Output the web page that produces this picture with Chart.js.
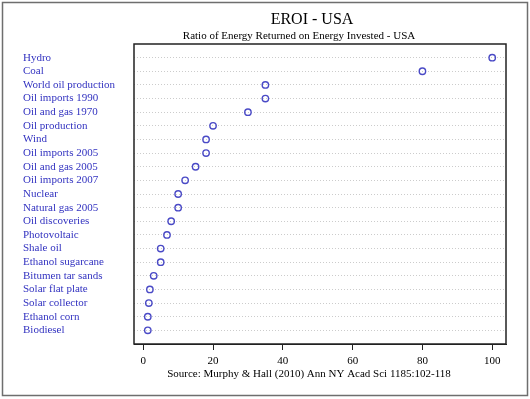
<!DOCTYPE html>
<html>
<head>
<meta charset="utf-8">
<script src="https://cdn.jsdelivr.net/npm/chart.js@4"></script>
<style>
  body { margin: 0; background: #fff; }
  #wrap { width: 530px; height: 399px; }
</style>
</head>
<body>
<div id="wrap"><canvas id="eroiChart" width="530" height="399"></canvas></div>
<script>
// data
var categories = ["Hydro", "Coal", "World oil production", "Oil imports 1990", "Oil and gas 1970",
    "Oil production", "Wind", "Oil imports 2005", "Oil and gas 2005", "Oil imports 2007",
    "Nuclear", "Natural gas 2005", "Oil discoveries", "Photovoltaic", "Shale oil",
    "Ethanol sugarcane", "Bitumen tar sands", "Solar flat plate", "Solar collector",
    "Ethanol corn", "Biodiesel"];
var eroiValues = [100, 80, 35, 35, 30, 20, 18, 18, 15, 12, 10, 10, 8, 6.8, 5, 5, 3, 1.9, 1.6, 1.3, 1.3];
var xTickValues = [0, 20, 40, 60, 80, 100];

var n = categories.length;
var blue = '#3232c0';
var serif = 'Liberation Serif';

// rows are placed 1..n from bottom, top row first in the lists
var points = eroiValues.map(function(v, i){
    return {x: v, y: n - i};
});

var frame = {
    id: 'frame',
    beforeDraw: function(chart){
        var c = chart.ctx;
        c.save();
        c.fillStyle = '#fff';
        c.fillRect(0, 0, chart.width, chart.height);
        c.strokeStyle = '#6e6e6e';
        c.lineWidth = 1.5;
        c.strokeRect(2.5, 2.5, 525, 393);
        c.restore();
    },
    afterDraw: function(chart){
        var c = chart.ctx, a = chart.chartArea;
        c.save();
        c.strokeStyle = '#222';
        c.lineWidth = 1.5;
        c.strokeRect(a.left, a.top, a.right - a.left, a.bottom - a.top);
        c.fillStyle = '#000';
        c.textAlign = 'center';
        c.textBaseline = 'alphabetic';
        c.font = '16px "' + serif + '"';
        c.fillText('EROI - USA', 312, 24);
        c.font = '11px "' + serif + '"';
        c.fillText('Ratio of Energy Returned on Energy Invested - USA', 299, 39);
        c.fillText('Source: Murphy & Hall (2010) Ann NY Acad Sci 1185:102-118', 309, 377);
        c.restore();
    }
};

var ctx = document.getElementById('eroiChart').getContext('2d');
var eroiChart = new Chart(ctx, {
    type: 'scatter',
    data: {
        datasets: [{
            data: points,
            pointStyle: 'circle',
            pointRadius: 3.2,
            pointHoverRadius: 3.2,
            pointBorderWidth: 1.4,
            borderColor: '#4a4ac6',
            backgroundColor: 'rgba(0,0,0,0)'
        }]
    },
    options: {
        responsive: false,
        animation: false,
        layout: {padding: {left: 23, right: 24, top: 44, bottom: 0}},
        plugins: {legend: {display: false}, tooltip: {enabled: false}},
        scales: {
            x: {
                type: 'linear',
                min: -2.65,
                max: 103.95,
                afterBuildTicks: function(scale){
                    scale.ticks = xTickValues.map(function(v){ return {value: v}; });
                },
                afterFit: function(scale){ scale.height = 55; },
                grid: {drawOnChartArea: false, tickLength: 6, color: '#222', tickWidth: 1},
                border: {display: true, color: '#222', width: 1},
                ticks: {
                    color: '#000',
                    padding: 5,
                    maxRotation: 0,
                    font: {family: serif, size: 11}
                }
            },
            y: {
                type: 'linear',
                min: 0,
                max: n + 1,
                afterBuildTicks: function(scale){
                    scale.ticks = categories.map(function(c, i){ return {value: n - i}; });
                },
                afterFit: function(scale){ scale.width = 111; },
                grid: {drawTicks: false, color: '#cccccc', lineWidth: 1},
                border: {display: false, dash: [1, 2]},
                ticks: {
                    color: blue,
                    crossAlign: 'far',
                    autoSkip: false,
                    font: {family: serif, size: 11},
                    callback: function(v){ return categories[n - v]; }
                }
            }
        }
    },
    plugins: [frame]
});
</script>
</body>
</html>
